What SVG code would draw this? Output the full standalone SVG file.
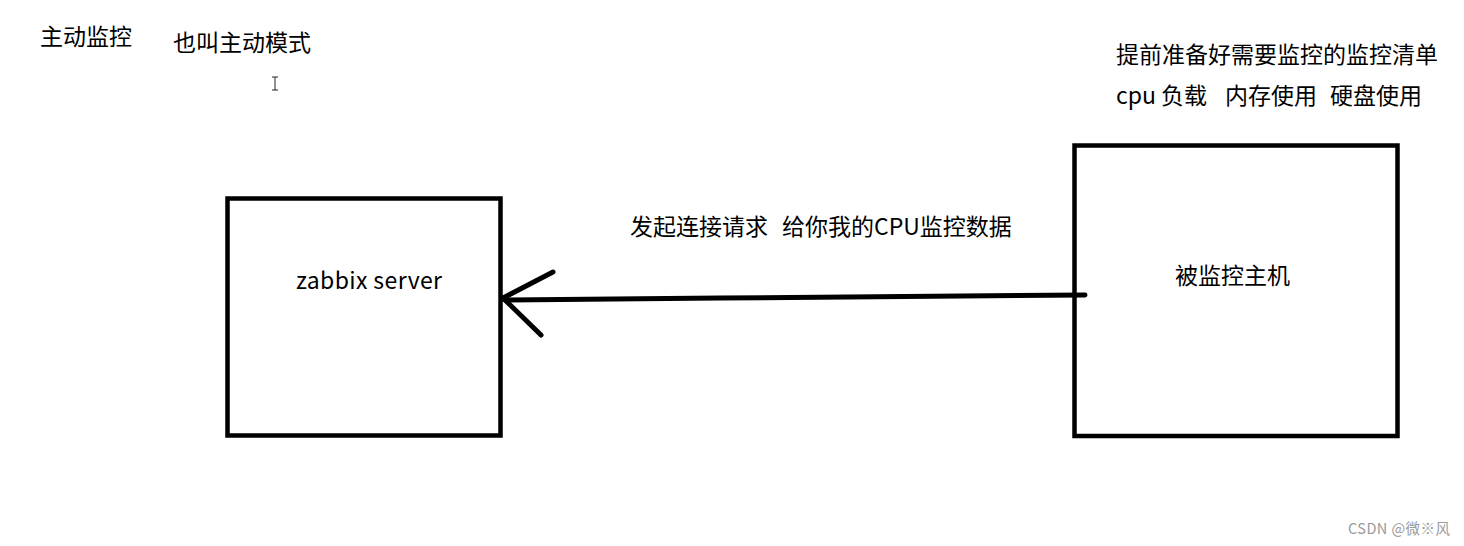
<svg xmlns="http://www.w3.org/2000/svg" width="1464" height="546" viewBox="0 0 1464 546">
<style>
.t{font-family:"Noto Sans CJK SC","Microsoft YaHei",sans-serif;font-size:23px;fill:#000}
.box{fill:none;stroke:#000;stroke-width:4.5}
.conn{fill:none;stroke:#000;stroke-width:5;stroke-linecap:round;stroke-linejoin:round}
.wm{font-family:"Noto Sans CJK SC",sans-serif;font-size:14.5px;fill:#9a9a9a}
</style>
<rect width="1464" height="546" fill="#fff"/>
<text class="t" x="40" y="45">主动监控</text>
<text class="t" x="173" y="51">也叫主动模式</text>
<path d="M272,77h6M272,90h6M275,77v13" stroke="#222" stroke-width="1" fill="none"/>
<text class="t" x="1116" y="63" textLength="322">提前准备好需要监控的监控清单</text>
<text class="t" y="104"><tspan x="1116">cpu 负载</tspan><tspan x="1225">内存使用</tspan><tspan x="1330">硬盘使用</tspan></text>
<g id="zabbix-server">
<rect class="box" x="227.5" y="198.5" width="273" height="237"/>
<text class="t" x="296" y="289" textLength="146">zabbix server</text>
</g>
<g id="monitored-host">
<rect class="box" x="1074.5" y="145.5" width="323" height="290.5"/>
<text class="t" x="1175" y="284" textLength="115">被监控主机</text>
</g>
<g id="connectors">
<path class="conn" d="M1085,295 L720,298 L505,300"/>
<path class="conn" d="M553,272 L503,298 L541,335"/>
<text class="t" y="235"><tspan x="630">发起连接请求</tspan><tspan x="782">给你我的CPU监控数据</tspan></text>
</g>
<text class="wm" x="1348" y="534" textLength="102">CSDN @微※风</text>
</svg>
